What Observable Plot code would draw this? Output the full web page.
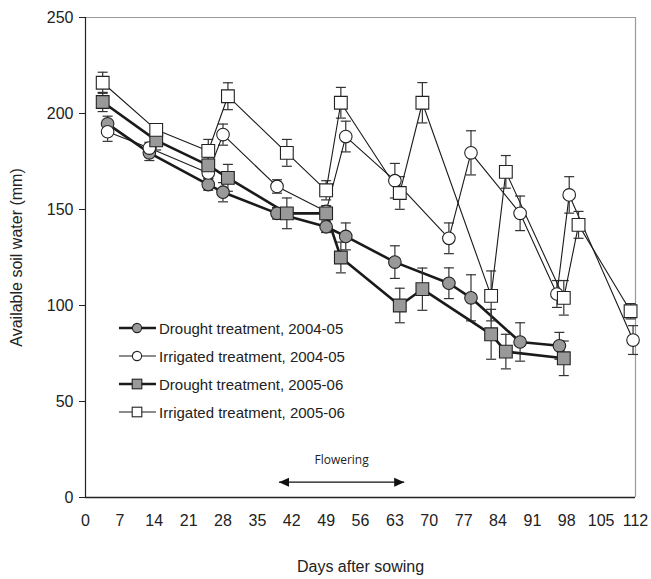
<!DOCTYPE html>
<html>
<head>
<meta charset="utf-8">
<script src="https://cdn.jsdelivr.net/npm/d3@7"></script>
<script src="https://cdn.jsdelivr.net/npm/@observablehq/plot@0.6"></script>
<style>
  html, body { margin: 0; padding: 0; background: #fff; }
  #wrap { position: relative; width: 651px; height: 579px; font-family: "Liberation Sans", Arial, sans-serif; }
  #legend { position: absolute; left: 118px; top: 314px; font-size: 15px; color: #222; }
  #legend .row { display: flex; align-items: center; height: 28px; }
  #legend svg { display: block; margin-right: 2px; }
</style>
</head>
<body>
<div id="wrap"></div>
<script>
// ---- data ----
const seriesNames = [
  "Drought treatment, 2004-05",
  "Irrigated treatment, 2004-05",
  "Drought treatment, 2005-06",
  "Irrigated treatment, 2005-06"
];
const drought0405Days = [4.5, 13, 25, 28, 39, 49, 53, 63, 74, 78.5, 88.5, 96.5];
const drought0405Vals = [194.6, 179.5, 163, 159, 148, 141, 136, 122.6, 111.6, 104, 81, 79];
const drought0405Err  = [4, 4, 3, 5, 3, 3, 7, 8.5, 8, 12, 10, 7];

const irrig0405Days = [4.5, 13, 25, 28, 39, 49, 53, 63, 74, 78.5, 88.5, 96, 98.5, 111.5];
const irrig0405Vals = [190.5, 182, 169, 189, 162, 149, 188, 165, 135, 179.5, 148, 106, 157.6, 82];
const irrig0405Err  = [5, 3, 3, 5.5, 3.5, 3, 8, 9, 8, 11.5, 9, 7, 9.5, 7.5];

const drought0506Days = [3.5, 14.4, 25, 29, 41, 49, 52, 64, 68.6, 82.6, 85.6, 97.4];
const drought0506Vals = [206, 186, 173, 166.5, 148, 148, 125, 100, 108.5, 85, 76, 72.5];
const drought0506Err  = [5, 5, 4, 7, 8, 3, 8, 9, 11, 13, 9, 9];

const irrig0506Days = [3.5, 14.4, 25, 29, 41, 49, 52, 64, 68.6, 82.6, 85.6, 97.4, 100.4, 111];
const irrig0506Vals = [216, 191.5, 180.5, 209, 179.5, 160, 205.6, 158.6, 205.6, 105, 169.6, 104, 142, 97];
const irrig0506Err  = [5.5, 3, 6, 7, 7, 5, 8, 8.5, 10.5, 13, 8.5, 9, 7, 4];

const xTicks = [0, 7, 14, 21, 28, 35, 42, 49, 56, 63, 70, 77, 84, 91, 98, 105, 112];
const yTicks = [0, 50, 100, 150, 200, 250];

const flowering = [{start: 39.4, end: 64.9, level: 8, labelLevel: 19.5, label: "Flowering"}];

// ---- styles per series ----
const styles = [
  {symbol: "circle", fill: "#999999", width: 2.6, r: 6.3},
  {symbol: "circle", fill: "#ffffff", width: 1.1, r: 6.3},
  {symbol: "square", fill: "#999999", width: 2.6, r: 7.2},
  {symbol: "square", fill: "#ffffff", width: 1.1, r: 7.2}
];
const raw = [
  [drought0405Days, drought0405Vals, drought0405Err],
  [irrig0405Days, irrig0405Vals, irrig0405Err],
  [drought0506Days, drought0506Vals, drought0506Err],
  [irrig0506Days, irrig0506Vals, irrig0506Err]
];
const series = raw.map(([d, v, e], i) => d.map((day, j) => ({series: seriesNames[i], day, value: v[j], err: e[j]})));

const capSymbol = { draw(ctx, size) { ctx.moveTo(-5, 0); ctx.lineTo(5, 0); } };
const headSymbol = { draw(ctx, size) { ctx.moveTo(0, 0); ctx.lineTo(-10, -4.5); ctx.lineTo(-10, 4.5); ctx.closePath(); } };

const marks = [
  Plot.ruleX([112], {y1: 0, y2: 250, stroke: "#9a9a9a", strokeWidth: 1.2}),
  Plot.ruleY([250], {x1: 0, x2: 112, stroke: "#9a9a9a", strokeWidth: 1.2}),
  Plot.ruleY([0], {stroke: "#222", strokeWidth: 1.6}),
  Plot.ruleX([0], {y1: 0, y2: 250, stroke: "#222", strokeWidth: 1.2}),
  Plot.axisY(yTicks, {tickSize: 6, tickPadding: 6, fontSize: 16, label: null, stroke: "#222", fill: "#222"}),
  Plot.axisX(xTicks, {tickSize: 0, tickPadding: 17, fontSize: 16, label: null, fill: "#222"}),
  Plot.text(["Available soil water (mm)"], {frameAnchor: "left", textAnchor: "middle", dx: -69, rotate: -90, fontSize: 16, fill: "#222"}),
  Plot.text(["Days after sowing"], {frameAnchor: "bottom", dy: 74, fontSize: 16, fill: "#222"}),
  // flowering arrow
  Plot.link(flowering, {x1: "start", x2: "end", y1: "level", y2: "level", stroke: "#111", strokeWidth: 1.4}),
  Plot.dot(flowering, {x: "end", y: "level", symbol: headSymbol, fill: "#111", stroke: "none", r: 5}),
  Plot.dot(flowering, {x: "start", y: "level", symbol: headSymbol, rotate: 180, fill: "#111", stroke: "none", r: 5}),
  Plot.text(flowering, {x: d => (d.start + d.end) / 2, y: "labelLevel", text: "label", fontSize: 12, fontFamily: "Open Sans, sans-serif", fill: "#222"})
];

series.forEach((s, i) => {
  marks.push(
    Plot.ruleX(s, {x: "day", y1: d => d.value - d.err, y2: d => d.value + d.err, stroke: "#333", strokeWidth: 1.2}),
    Plot.dot(s, {x: "day", y: d => d.value - d.err, symbol: capSymbol, stroke: "#333", strokeWidth: 1.2, fill: "none"}),
    Plot.dot(s, {x: "day", y: d => d.value + d.err, symbol: capSymbol, stroke: "#333", strokeWidth: 1.2, fill: "none"}),
    Plot.line(s, {x: "day", y: "value", stroke: "#1a1a1a", strokeWidth: styles[i].width})
  );
});
series.forEach((s, i) => {
  marks.push(
    Plot.dot(s, {x: "day", y: "value", symbol: styles[i].symbol, r: styles[i].r, fill: styles[i].fill, stroke: "#222", strokeWidth: 1.1})
  );
});

const chart = Plot.plot({
  width: 651,
  height: 579,
  marginLeft: 85,
  marginRight: 16,
  marginTop: 17,
  marginBottom: 82,
  style: {fontFamily: "Liberation Sans, Arial, sans-serif", background: "#fff", overflow: "visible"},
  x: {domain: [0, 112]},
  y: {domain: [0, 250]},
  marks
});

const wrap = document.getElementById("wrap");
wrap.appendChild(chart);

// legend overlay (inside plot area, like the original)
const legend = document.createElement("div");
legend.id = "legend";
seriesNames.forEach((name, i) => {
  const st = styles[i];
  const row = document.createElement("div");
  row.className = "row";
  const marker = st.symbol === "circle"
    ? `<circle cx="19" cy="7" r="4.6" fill="${st.fill}" stroke="#222" stroke-width="1.1"/>`
    : `<rect x="14.2" y="2.2" width="9.6" height="9.6" fill="${st.fill}" stroke="#222" stroke-width="1.1"/>`;
  row.innerHTML = `<svg width="39" height="14"><line x1="1" y1="7" x2="38" y2="7" stroke="#1a1a1a" stroke-width="${st.width}"/>${marker}</svg><span>${name}</span>`;
  legend.appendChild(row);
});
wrap.appendChild(legend);
</script>
</body>
</html>
